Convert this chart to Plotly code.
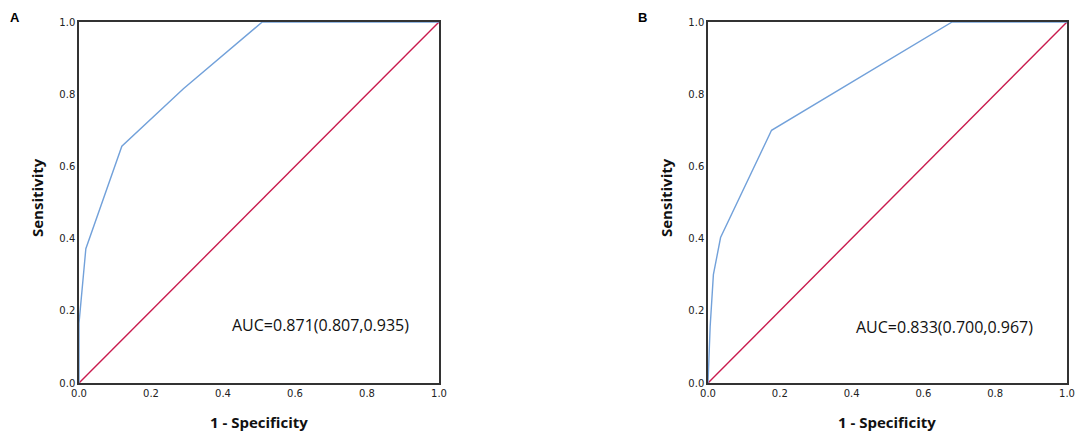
import plotly.graph_objects as go

# Panel A ROC curve
fpr_a = [0.0, 0.0, 0.019, 0.119, 0.29, 0.509, 1.0]
tpr_a = [0.0, 0.166, 0.372, 0.656, 0.815, 1.0, 1.0]
auc_a = "AUC=0.871(0.807,0.935)"

# Panel B ROC curve
fpr_b = [0.0, 0.006, 0.015, 0.035, 0.177, 0.339, 0.68, 1.0]
tpr_b = [0.0, 0.156, 0.30, 0.403, 0.70, 0.797, 1.0, 1.0]
auc_b = "AUC=0.833(0.700,0.967)"

ref_line = [0.0, 1.0]
tick_vals = [0.0, 0.2, 0.4, 0.6, 0.8, 1.0]
tick_text = ["0.0", "0.2", "0.4", "0.6", "0.8", "1.0"]

blue = "#72a1da"
red = "#c91b4e"

# page body has an 8px margin; figure is sized to fit the window
OFF = 8
W, H = 1084 - OFF, 434 - OFF


def px(sx):
    return (sx - OFF) / W


def py(sy):
    return 1 - (sy - OFF) / H


fig = go.Figure()
for i, (fx, ty) in enumerate([(fpr_a, tpr_a), (fpr_b, tpr_b)]):
    xa = "x" if i == 0 else "x2"
    ya = "y" if i == 0 else "y2"
    fig.add_trace(go.Scatter(x=ref_line, y=ref_line, mode="lines",
                             line=dict(color=red, width=1.4), xaxis=xa, yaxis=ya,
                             showlegend=False, hoverinfo="skip"))
    fig.add_trace(go.Scatter(x=fx, y=ty, mode="lines",
                             line=dict(color=blue, width=1.4), xaxis=xa, yaxis=ya,
                             showlegend=False))

ydom = [py(383), py(22)]
xdom_a = [px(79), px(439)]
xdom_b = [px(708), px(1067)]

tickfont = dict(family="DejaVu Sans", size=10, color="#222")
titlefont = dict(family="Open Sans", size=15, color="#111")

axis_common = dict(range=[0, 1], tickvals=tick_vals, ticktext=tick_text,
                   showgrid=False, zeroline=False, showline=True, mirror=True,
                   linecolor="#333", linewidth=1.5, ticks="", tickfont=tickfont,
                   automargin=False)

annots = []
for lbl, sx in [("A", 8), ("B", 636)]:
    annots.append(dict(text="<b>" + lbl + "</b>", x=px(sx), y=1.0,
                       xref="paper", yref="paper", xanchor="left", yanchor="top",
                       showarrow=False,
                       font=dict(family="Liberation Sans", size=13, color="#000")))
for cx in [259, 887]:
    annots.append(dict(text="<b>1 - Specificity</b>", x=px(cx), y=py(422),
                       xref="paper", yref="paper", xanchor="center", yanchor="middle",
                       showarrow=False, font=titlefont))
for cx in [37, 666]:
    annots.append(dict(text="<b>Sensitivity</b>", x=px(cx), y=py(198),
                       xref="paper", yref="paper", xanchor="center", yanchor="middle",
                       textangle=-90, showarrow=False, font=titlefont))
annots.append(dict(text=auc_a, x=0.42, y=0.16, xref="x", yref="y", xanchor="left",
                   yanchor="middle", showarrow=False,
                   font=dict(family="Open Sans", size=16, color="#111")))
annots.append(dict(text=auc_b, x=0.408, y=0.155, xref="x2", yref="y2", xanchor="left",
                   yanchor="middle", showarrow=False,
                   font=dict(family="Open Sans", size=16, color="#111")))

fig.update_layout(
    width=W, height=H,
    margin=dict(l=0, r=0, t=0, b=0),
    paper_bgcolor="white", plot_bgcolor="white",
    xaxis=dict(domain=xdom_a, anchor="y", **axis_common),
    yaxis=dict(domain=ydom, anchor="x", **axis_common),
    xaxis2=dict(domain=xdom_b, anchor="y2", **axis_common),
    yaxis2=dict(domain=ydom, anchor="x2", **axis_common),
    annotations=annots,
)

fig.write_html("out.html")
